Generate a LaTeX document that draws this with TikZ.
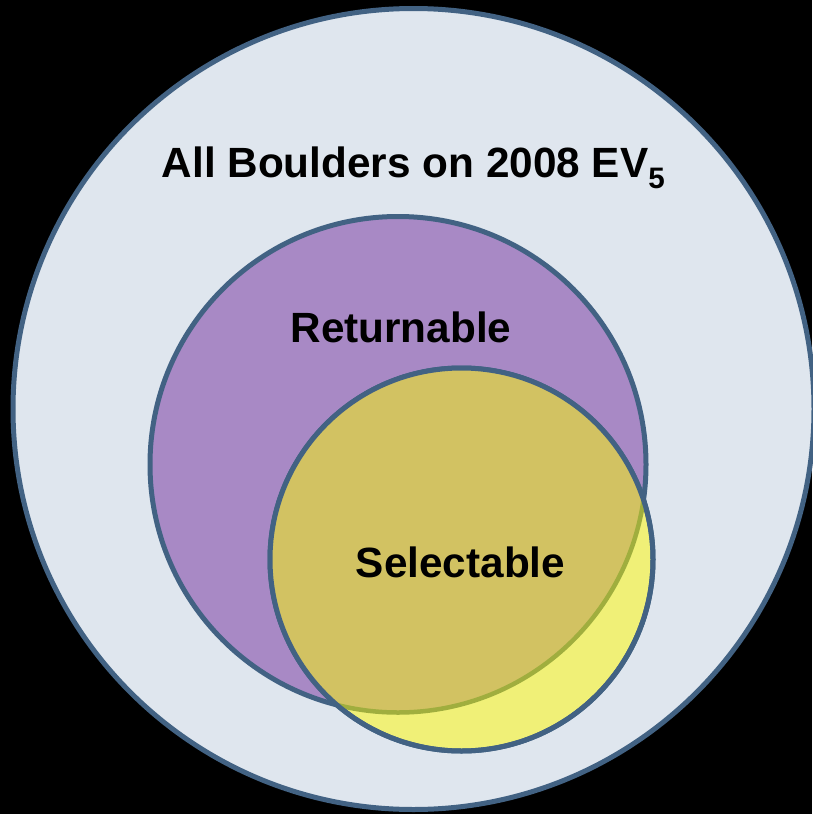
\documentclass[tikz,border=0pt]{standalone}
\usepackage{fontspec}
\setmainfont{Liberation Sans}
\definecolor{bgblack}{HTML}{000000}
\definecolor{outerfill}{HTML}{DFE6EE}
\definecolor{ringline}{HTML}{426283}
\definecolor{returnfill}{HTML}{A889C5}
\definecolor{selectfill}{HTML}{F0F077}
\definecolor{overlapfill}{HTML}{D2C262}
\definecolor{overlapline}{HTML}{A0AE3E}
\tikzset{
  setcircle/.style={line width=5pt, draw=ringline},
  setlabel/.style={font=\fontsize{42.3}{48}\selectfont\bfseries, text=black, inner sep=0pt, anchor=base}
}
\begin{document}
\begin{tikzpicture}[x=1pt,y=-1pt]
  % page background
  \fill[bgblack] (0,0) rectangle (812,814);
  \useasboundingbox (0,0) rectangle (812,814);
  % all boulders
  \draw[setcircle, fill=outerfill] (413.5,409) circle[radius=400.5];
  % returnable set
  \draw[setcircle, fill=returnfill] (398,464.5) circle[radius=248];
  % selectable set
  \draw[setcircle, fill=selectfill] (461.5,559.5) circle[radius=191.5];
  % overlap of the two sets
  \begin{scope}
    \clip (461.5,559.5) circle[radius=191.5];
    \draw[line width=4.5pt, draw=overlapline, fill=overlapfill] (398,464.5) circle[radius=248];
  \end{scope}
  \draw[setcircle] (461.5,559.5) circle[radius=191.5];
  % labels
  \node[setlabel] (all) at (413.5,177) {All Boulders on 2008 EV\textsubscript{5}};
  \node[setlabel] (ret) at (401,342) {Returnable};
  \node[setlabel] (sel) at (460.5,577) {Selectable};
\end{tikzpicture}
\end{document}
